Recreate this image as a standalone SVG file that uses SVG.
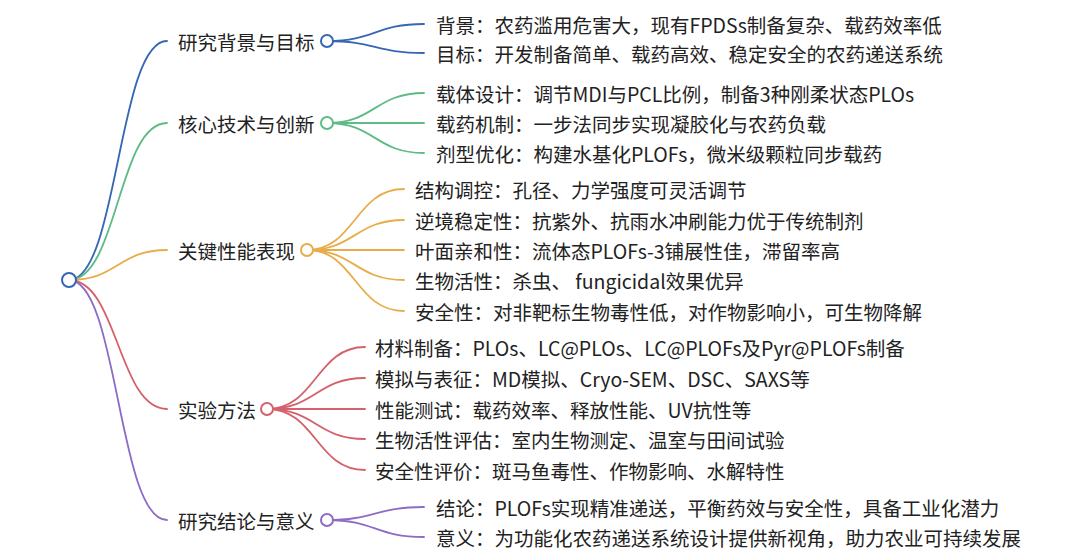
<svg xmlns="http://www.w3.org/2000/svg" width="1080" height="550" viewBox="0 0 1080 550">
<style>
text{font-family:"Noto Sans CJK SC","Noto Sans",sans-serif;font-size:19.5px;fill:#222}
path{fill:none;stroke-width:1.8;stroke-linecap:round}
circle{fill:#fff;stroke-width:2}
.b{stroke:#3766b2}.g{stroke:#5dbb86}.o{stroke:#e8ad4a}.r{stroke:#d4616c}.p{stroke:#8d6cc6}
</style>
<rect width="1080" height="550" fill="#fff"/>
<g id="connectors">
<path class="b" d="M69 280 C118 280 118 41 167 41"/>
<path class="g" d="M69 280 C118 280 118 123 167 123"/>
<path class="o" d="M69 280 C118 280 118 250 167 250"/>
<path class="r" d="M69 280 C118 280 118 409 167 409"/>
<path class="p" d="M69 280 C118 280 118 520 167 520"/>
<path class="b" d="M327 41 C375 41 375 24 424 24"/>
<path class="b" d="M327 41 C375 41 375 53 424 53"/>
<path class="g" d="M327 123 C375 123 375 93 424 93"/>
<path class="g" d="M327 123 C375 123 375 123 424 123"/>
<path class="g" d="M327 123 C375 123 375 153 424 153"/>
<path class="o" d="M307 250 C355 250 355 189 404 189"/>
<path class="o" d="M307 250 C355 250 355 220 404 220"/>
<path class="o" d="M307 250 C355 250 355 250 404 250"/>
<path class="o" d="M307 250 C355 250 355 280 404 280"/>
<path class="o" d="M307 250 C355 250 355 311 404 311"/>
<path class="r" d="M267 409 C316 409 316 347 365 347"/>
<path class="r" d="M267 409 C316 409 316 378 365 378"/>
<path class="r" d="M267 409 C316 409 316 409 365 409"/>
<path class="r" d="M267 409 C316 409 316 439 365 439"/>
<path class="r" d="M267 409 C316 409 316 470 365 470"/>
<path class="p" d="M327 520 C375 520 375 507 424 507"/>
<path class="p" d="M327 520 C375 520 375 537 424 537"/>
</g>
<g id="root"><circle class="b" cx="69" cy="280" r="7"/></g>
<g id="n1">
<text x="178" y="50">研究背景与目标</text><circle class="b" cx="327" cy="41" r="6"/>
<text x="436" y="33">背景：农药滥用危害大，现有FPDSs制备复杂、载药效率低</text>
<text x="436" y="62">目标：开发制备简单、载药高效、稳定安全的农药递送系统</text>
</g>
<g id="n2">
<text x="178" y="132">核心技术与创新</text><circle class="g" cx="327" cy="123" r="6"/>
<text x="436" y="102">载体设计：调节MDI与PCL比例，制备3种刚柔状态PLOs</text>
<text x="436" y="132">载药机制：一步法同步实现凝胶化与农药负载</text>
<text x="436" y="162">剂型优化：构建水基化PLOFs，微米级颗粒同步载药</text>
</g>
<g id="n3">
<text x="178" y="259">关键性能表现</text><circle class="o" cx="307" cy="250" r="6"/>
<text x="415" y="198">结构调控：孔径、力学强度可灵活调节</text>
<text x="415" y="229">逆境稳定性：抗紫外、抗雨水冲刷能力优于传统制剂</text>
<text x="415" y="259">叶面亲和性：流体态PLOFs-3铺展性佳，滞留率高</text>
<text x="415" y="289">生物活性：杀虫、 fungicidal效果优异</text>
<text x="415" y="320">安全性：对非靶标生物毒性低，对作物影响小，可生物降解</text>
</g>
<g id="n4">
<text x="178" y="418">实验方法</text><circle class="r" cx="267" cy="409" r="6"/>
<text x="375" y="356">材料制备：PLOs、LC@PLOs、LC@PLOFs及Pyr@PLOFs制备</text>
<text x="375" y="387">模拟与表征：MD模拟、Cryo-SEM、DSC、SAXS等</text>
<text x="375" y="418">性能测试：载药效率、释放性能、UV抗性等</text>
<text x="375" y="448">生物活性评估：室内生物测定、温室与田间试验</text>
<text x="375" y="479">安全性评价：斑马鱼毒性、作物影响、水解特性</text>
</g>
<g id="n5">
<text x="178" y="529">研究结论与意义</text><circle class="p" cx="327" cy="520" r="6"/>
<text x="436" y="516">结论：PLOFs实现精准递送，平衡药效与安全性，具备工业化潜力</text>
<text x="436" y="546">意义：为功能化农药递送系统设计提供新视角，助力农业可持续发展</text>
</g>
</svg>
